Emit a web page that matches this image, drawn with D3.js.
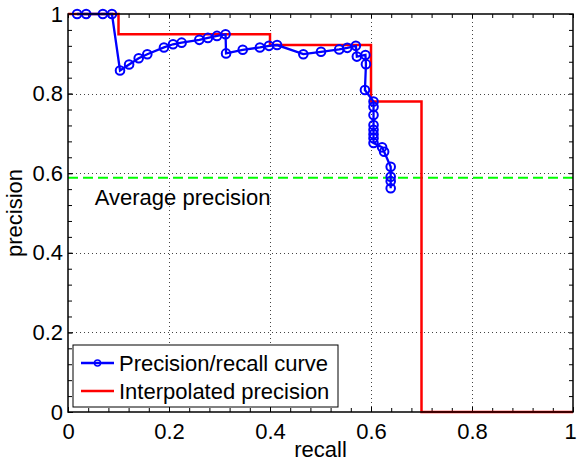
<!DOCTYPE html>
<meta charset="utf-8">
<style>
body { margin: 0; background: #fff; }
text { font-family: "Liberation Sans", Arial, sans-serif; }
</style>
<body>
<script src="https://d3js.org/d3.v7.min.js"></script>
<script>

// precision/recall curve
var recall = [0.018, 0.036, 0.069, 0.087, 0.103, 0.121, 0.140, 0.157, 0.190, 0.208,
              0.225, 0.260, 0.277, 0.295, 0.312, 0.313, 0.346, 0.380, 0.398, 0.414,
              0.466, 0.501, 0.537, 0.553, 0.570, 0.572, 0.589, 0.590, 0.588, 0.605,
              0.605, 0.605, 0.605, 0.605, 0.605, 0.605, 0.605, 0.622, 0.626, 0.639,
              0.639, 0.639, 0.639];
var precision = [1, 1, 1, 1, 0.858, 0.873, 0.889, 0.899, 0.916, 0.924,
                 0.928, 0.935, 0.940, 0.945, 0.949, 0.901, 0.910, 0.916, 0.920, 0.922,
                 0.899, 0.905, 0.911, 0.915, 0.920, 0.893, 0.897, 0.874, 0.809, 0.780,
                 0.767, 0.746, 0.721, 0.709, 0.698, 0.688, 0.676, 0.665, 0.654, 0.616,
                 0.591, 0.580, 0.562];

// 11 point interpolated precision
var interpRecall = [0, 0.1, 0.2, 0.3, 0.4, 0.5, 0.6, 0.7, 0.8, 0.9, 1];
var interpPrecision = [1, 0.949, 0.949, 0.949, 0.922, 0.922, 0.780, 0, 0, 0, 0];
var averagePrecision = d3.mean(interpPrecision);

var xTicks = [0, 0.2, 0.4, 0.6, 0.8, 1];
var yTicks = [0, 0.2, 0.4, 0.6, 0.8, 1];
var legendLabels = ["Precision/recall curve", "Interpolated precision"];

var W = 577, H = 461;
var margin = {top: 14, right: 4, bottom: 49, left: 68};
var width = W - margin.left - margin.right,
    height = H - margin.top - margin.bottom;
var fs = 22;

var svg = d3.select("body").append("svg")
    .attr("width", W)
    .attr("height", H);

var g = svg.append("g")
    .attr("transform", "translate(" + margin.left + "," + margin.top + ")");

var x = d3.scaleLinear().domain([0, 1]).range([0, width]);
var y = d3.scaleLinear().domain([0, 1]).range([height, 0]);

var fmt = d3.format("~g");
var minor = d3.range(0, 1.0001, 0.04);

// dotted grid
g.selectAll(".gx").data(xTicks.slice(1, -1)).enter().append("line")
    .attr("x1", function(d){ return Math.round(x(d)) + 0.5; })
    .attr("x2", function(d){ return Math.round(x(d)) + 0.5; })
    .attr("y1", 0).attr("y2", height)
    .attr("stroke", "#444").attr("stroke-dasharray", "1,3");
g.selectAll(".gy").data(yTicks.slice(1, -1)).enter().append("line")
    .attr("y1", function(d){ return Math.round(y(d)) + 0.5; })
    .attr("y2", function(d){ return Math.round(y(d)) + 0.5; })
    .attr("x1", 0).attr("x2", width)
    .attr("stroke", "#444").attr("stroke-dasharray", "1,3");

// ticks on all four sides, pointing in
function addAxis(axis, tr) {
  var a = g.append("g").attr("transform", tr).call(axis);
  a.select(".domain").remove();
  a.selectAll("text").attr("font-size", fs).attr("font-family", null).attr("fill", "#000");
  a.selectAll("line").attr("stroke", "#000");
  return a;
}
addAxis(d3.axisBottom(x).tickValues(minor).tickSizeInner(-4).tickSizeOuter(0).tickFormat(""), "translate(0," + height + ")");
addAxis(d3.axisTop(x).tickValues(minor).tickSizeInner(-4).tickSizeOuter(0).tickFormat(""), "translate(0,0)");
addAxis(d3.axisLeft(y).tickValues(minor).tickSizeInner(-4).tickSizeOuter(0).tickFormat(""), "translate(0,0)");
addAxis(d3.axisRight(y).tickValues(minor).tickSizeInner(-4).tickSizeOuter(0).tickFormat(""), "translate(" + width + ",0)");
var xa = addAxis(d3.axisBottom(x).tickValues(xTicks).tickSizeInner(-5).tickSizeOuter(0).tickPadding(11).tickFormat(fmt), "translate(0," + height + ")");
xa.selectAll("text").filter(function(d){ return d == 1; }).attr("dx", -3);
addAxis(d3.axisLeft(y).tickValues(yTicks).tickSizeInner(-5).tickSizeOuter(0).tickPadding(5).tickFormat(fmt), "translate(0,0)");

// average precision
g.append("line")
    .attr("x1", 0).attr("x2", width)
    .attr("y1", y(averagePrecision)).attr("y2", y(averagePrecision))
    .attr("stroke", "#00ff00").attr("stroke-width", 2)
    .attr("stroke-dasharray", "10,5");

// interpolated precision
g.append("path")
    .datum(d3.zip(interpRecall, interpPrecision))
    .attr("fill", "none")
    .attr("stroke", "#ff0000")
    .attr("stroke-width", 2.5)
    .attr("d", d3.line().curve(d3.curveStepAfter)
        .x(function(d){ return x(d[0]); })
        .y(function(d){ return y(d[1]); }));

// precision/recall curve
var pr = d3.zip(recall, precision);
g.append("path")
    .datum(pr)
    .attr("fill", "none")
    .attr("stroke", "#0000ff")
    .attr("stroke-width", 2.3)
    .attr("d", d3.line()
        .x(function(d){ return x(d[0]); })
        .y(function(d){ return y(d[1]); }));
g.selectAll(".pt").data(pr).enter().append("circle")
    .attr("cx", function(d){ return x(d[0]); })
    .attr("cy", function(d){ return y(d[1]); })
    .attr("r", 4.3)
    .attr("fill", "none")
    .attr("stroke", "#0000ff")
    .attr("stroke-width", 2);

// box
g.append("rect")
    .attr("width", width).attr("height", height)
    .attr("fill", "none").attr("stroke", "#000").attr("stroke-width", 1.5);

g.append("text")
    .attr("x", x(0.053)).attr("y", y(0.52))
    .attr("font-size", fs)
    .text("Average precision");

// axis labels
svg.append("text")
    .attr("x", margin.left + width / 2).attr("y", H - 4)
    .attr("text-anchor", "middle").attr("font-size", fs)
    .text("recall");
svg.append("text")
    .attr("transform", "translate(22," + (margin.top + height / 2) + ") rotate(-90)")
    .attr("text-anchor", "middle").attr("font-size", fs)
    .text("precision");

// legend
var lg = svg.append("g").attr("transform", "translate(73,345)");
lg.append("rect").attr("width", 265).attr("height", 62)
    .attr("fill", "#fff").attr("stroke", "#000").attr("stroke-width", 1);
var colors = ["#0000ff", "#ff0000"];
var row = lg.selectAll(".row").data(legendLabels).enter().append("g")
    .attr("transform", function(d, i){ return "translate(0," + (18 + i * 28) + ")"; });
row.append("line")
    .attr("x1", 8).attr("x2", 41)
    .attr("stroke", function(d, i){ return colors[i]; })
    .attr("stroke-width", function(d, i){ return i ? 2.5 : 2.3; });
row.filter(function(d, i){ return i == 0; }).append("circle")
    .attr("cx", 24.5).attr("r", 3)
    .attr("fill", "none").attr("stroke", "#0000ff").attr("stroke-width", 1.5);
row.append("text")
    .attr("x", 46).attr("dy", "0.35em")
    .attr("font-size", fs)
    .text(function(d){ return d; });

</script>
</body>
